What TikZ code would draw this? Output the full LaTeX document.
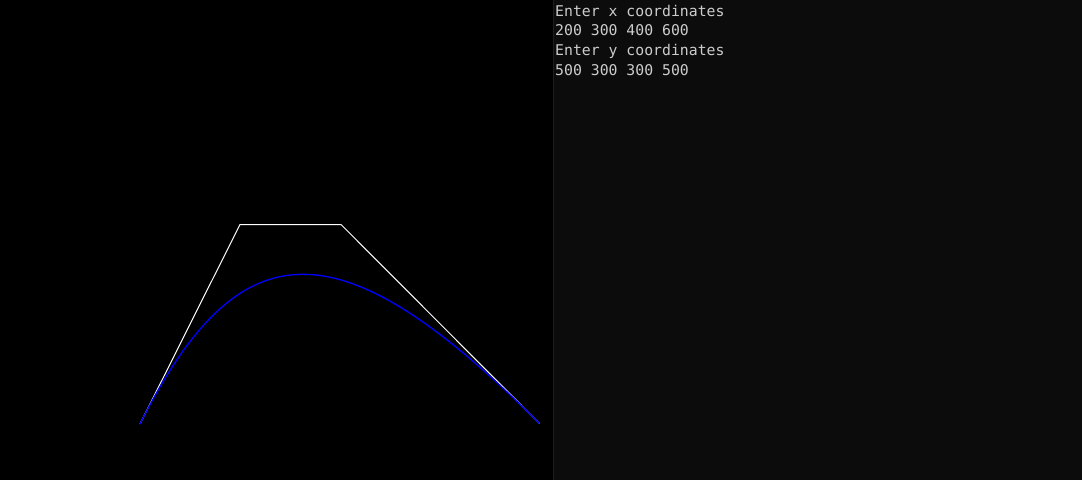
\documentclass[tikz,border=0pt]{standalone}
\usepackage{fontspec}
\newfontfamily\consolefont{DejaVu Sans Mono}
\definecolor{panel}{HTML}{0C0C0C}
\definecolor{divider}{HTML}{1E1E1E}
\definecolor{consoletext}{HTML}{CCCCCC}
\definecolor{curveblue}{HTML}{0000FF}
\begin{document}
\begin{tikzpicture}[x=1pt,y=-1pt,
  consoleline/.style={anchor=base west,inner sep=0pt,text=consoletext,font=\consolefont\fontsize{14.8}{17}\selectfont},
  polygonline/.style={draw=white,line width=1pt},
  beziercurve/.style={draw=curveblue,line width=1.3pt}]
\useasboundingbox (0,0) rectangle (1082,480);
\fill[black] (0,0) rectangle (553,480);
\fill[panel] (553,0) rectangle (1082,480);
\draw[divider,line width=1pt] (553,0) -- (553,480);
% control points
\coordinate (p0) at (140,424);
\coordinate (p1) at (240,224.5);
\coordinate (p2) at (341,224.5);
\coordinate (p3) at (539.5,423.5);
\draw[polygonline] (p0) -- (p1) -- (p2) -- (p3);
\draw[beziercurve] (p0) .. controls (p1) and (p2) .. (p3);
% console text
\node[consoleline] (l1) at (555,16) {Enter x coordinates};
\node[consoleline] (l2) at (555,35.8) {200 300 400 600};
\node[consoleline] (l3) at (555,55.5) {Enter y coordinates};
\node[consoleline] (l4) at (555,75) {500 300 300 500};
\end{tikzpicture}
\end{document}
